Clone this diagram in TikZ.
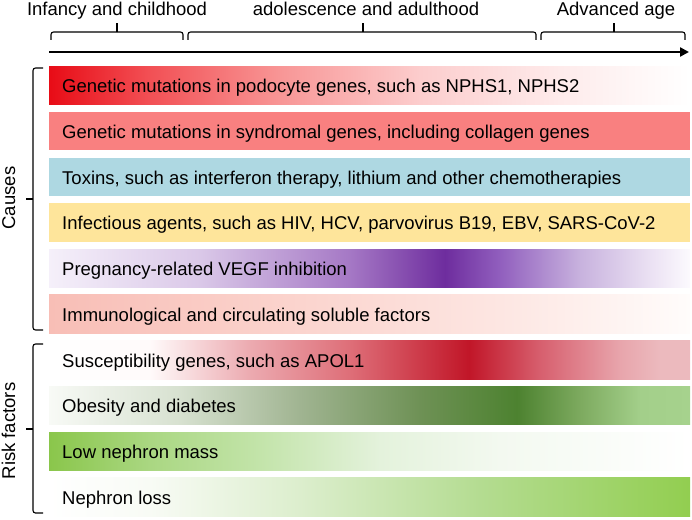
\documentclass[tikz,border=0pt]{standalone}
\usepackage{fontspec}
\setmainfont{Liberation Sans}
\usetikzlibrary{arrows.meta}

% row 1 colours
\definecolor{aA}{RGB}{232,12,22}
\definecolor{aB}{RGB}{242,80,85}
\definecolor{aC}{RGB}{248,150,150}
\definecolor{aD}{RGB}{252,205,205}
\definecolor{aE}{RGB}{254,235,235}
\definecolor{aF}{RGB}{255,255,255}
% solid rows
\definecolor{salmonbar}{RGB}{249,128,128}
\definecolor{bluebar}{RGB}{174,216,226}
\definecolor{yellowbar}{RGB}{254,229,155}
% purple row
\definecolor{pA}{RGB}{245,240,250}
\definecolor{pB}{RGB}{218,200,232}
\definecolor{pC}{RGB}{165,120,197}
\definecolor{pD}{RGB}{110,45,158}
\definecolor{pE}{RGB}{145,95,190}
\definecolor{pF}{RGB}{200,178,222}
\definecolor{pG}{RGB}{235,225,243}
\definecolor{pH}{RGB}{252,250,254}
% pink row
\definecolor{kA}{RGB}{248,190,182}
\definecolor{kB}{RGB}{251,212,206}
\definecolor{kC}{RGB}{253,230,226}
\definecolor{kD}{RGB}{255,252,251}
% susceptibility row
\definecolor{sA}{RGB}{255,255,255}
\definecolor{sB}{RGB}{255,250,250}
\definecolor{sC}{RGB}{236,170,176}
\definecolor{sD}{RGB}{222,110,120}
\definecolor{sE}{RGB}{193,22,40}
\definecolor{sF}{RGB}{215,95,110}
\definecolor{sG}{RGB}{232,165,172}
\definecolor{sH}{RGB}{236,186,190}
% obesity row
\definecolor{oA}{RGB}{248,250,246}
\definecolor{oB}{RGB}{215,225,208}
\definecolor{oC}{RGB}{160,180,145}
\definecolor{oD}{RGB}{110,145,85}
\definecolor{oE}{RGB}{77,130,48}
\definecolor{oF}{RGB}{125,170,95}
\definecolor{oG}{RGB}{163,207,138}
\definecolor{oH}{RGB}{166,210,141}
% low nephron mass row
\definecolor{lA}{RGB}{138,198,75}
\definecolor{lB}{RGB}{170,215,130}
\definecolor{lC}{RGB}{195,228,170}
\definecolor{lD}{RGB}{228,242,220}
\definecolor{lE}{RGB}{243,249,240}
\definecolor{lF}{RGB}{255,255,255}
% nephron loss row
\definecolor{nA}{RGB}{255,255,255}
\definecolor{nB}{RGB}{248,251,245}
\definecolor{nC}{RGB}{220,238,205}
\definecolor{nD}{RGB}{180,220,145}
\definecolor{nE}{RGB}{146,206,80}

\pgfdeclarehorizontalshading{shpodo}{100bp}{color(0bp)=(aA); color(25bp)=(aA); color(32.88bp)=(aB); color(43.02bp)=(aC); color(53.94bp)=(aD); color(64.86bp)=(aE); color(75bp)=(aF); color(100bp)=(aF)}
\pgfdeclarehorizontalshading{shpreg}{100bp}{color(0bp)=(pA); color(25bp)=(pA); color(36.78bp)=(pB); color(48.48bp)=(pC); color(55.89bp)=(pD); color(60.18bp)=(pE); color(66.42bp)=(pF); color(71.88bp)=(pG); color(75bp)=(pH); color(100bp)=(pH)}
\pgfdeclarehorizontalshading{shimmu}{100bp}{color(0bp)=(kA); color(25bp)=(kA); color(44.58bp)=(kB); color(60.18bp)=(kC); color(75bp)=(kD); color(100bp)=(kD)}
\pgfdeclarehorizontalshading{shsusc}{100bp}{color(0bp)=(sA); color(25bp)=(sA); color(32.88bp)=(sB); color(40.68bp)=(sC); color(48.48bp)=(sD); color(57.76bp)=(sE); color(63.30bp)=(sF); color(69.54bp)=(sG); color(72.66bp)=(sH); color(75bp)=(sH); color(100bp)=(sH)}
\pgfdeclarehorizontalshading{shobes}{100bp}{color(0bp)=(oA); color(25bp)=(oA); color(35.22bp)=(oB); color(44.58bp)=(oC); color(53.94bp)=(oD); color(61.51bp)=(oE); color(66.42bp)=(oF); color(71.10bp)=(oG); color(75bp)=(oH); color(100bp)=(oH)}
\pgfdeclarehorizontalshading{shlown}{100bp}{color(0bp)=(lA); color(25bp)=(lA); color(32.88bp)=(lB); color(41.46bp)=(lC); color(50.82bp)=(lD); color(60.18bp)=(lE); color(75bp)=(lF); color(100bp)=(lF)}
\pgfdeclarehorizontalshading{shloss}{100bp}{color(0bp)=(nA); color(25bp)=(nA); color(32.88bp)=(nB); color(44.58bp)=(nC); color(58.62bp)=(nD); color(75bp)=(nE); color(100bp)=(nE)}

\begin{document}
\begin{tikzpicture}[x=1pt,y=-1pt,
  bar/.style={anchor=north west, minimum width=641pt, minimum height=38.5pt, inner sep=0pt, outer sep=0pt, draw=none},
  lbl/.style={anchor=base west, inner sep=0pt, font=\fontsize{18.5}{22}\selectfont},
  hdr/.style={anchor=base, inner sep=0pt, font=\fontsize{18.5}{22}\selectfont},
  side/.style={anchor=base, inner sep=0pt, rotate=90, font=\fontsize{18.5}{22}\selectfont},
  brk/.style={line width=1.1pt, rounded corners=2.5pt},
  axisline/.style={line width=2.4pt, -{Triangle[length=9pt,width=9pt]}}]
\useasboundingbox (0,0) rectangle (692,519);

% header labels
\node[hdr] (h1) at (117,16) {Infancy and childhood};
\node[hdr] (h2) at (366,16) {adolescence and adulthood};
\node[hdr] (h3) at (616,16) {Advanced age};

% header brackets
\draw[brk] (51,40) -- (51,32) -- (183,32) -- (183,40);
\draw[line width=1.1pt] (117,32) -- (117,23);
\draw[brk] (188,40) -- (188,32) -- (536,32) -- (536,40);
\draw[line width=1.1pt] (363,32) -- (363,23);
\draw[brk] (541,40) -- (541,32) -- (685,32) -- (685,40);
\draw[line width=1.1pt] (614,32) -- (614,23);

% time axis
\coordinate (axs) at (49,52);
\coordinate (axe) at (689,52);
\draw[axisline] (axs) -- (axe);

% bars
\node[bar, shading=shpodo] (b1) at (49,66) {};
\node[bar, fill=salmonbar] (b2) at (49,111.75) {};
\node[bar, fill=bluebar] (b3) at (49,157.5) {};
\node[bar, fill=yellowbar] (b4) at (49,203.25) {};
\node[bar, shading=shpreg] (b5) at (49,249) {};
\node[bar, shading=shimmu] (b6) at (49,294.75) {};
\node[bar, shading=shsusc] (b7) at (49,340.5) {};
\node[bar, shading=shobes] (b8) at (49,386.25) {};
\node[bar, shading=shlown] (b9) at (49,432) {};
\node[bar, shading=shloss] (b10) at (49,477.75) {};

% bar labels
\node[lbl] (t1) at (62,92.5) {Genetic mutations in podocyte genes, such as NPHS1, NPHS2};
\node[lbl] (t2) at (62,138.25) {Genetic mutations in syndromal genes, including collagen genes};
\node[lbl] (t3) at (62,184) {Toxins, such as interferon therapy, lithium and other chemotherapies};
\node[lbl] (t4) at (62,229.75) {Infectious agents, such as HIV, HCV, parvovirus B19, EBV, SARS-CoV-2};
\node[lbl] (t5) at (62,275.5) {Pregnancy-related VEGF inhibition};
\node[lbl] (t6) at (62,321.25) {Immunological and circulating soluble factors};
\node[lbl] (t7) at (62,367) {Susceptibility genes, such as APOL1};
\node[lbl] (t8) at (62,412.75) {Obesity and diabetes};
\node[lbl] (t9) at (62,458.5) {Low nephron mass};
\node[lbl] (t10) at (62,504.25) {Nephron loss};

% side brackets
\draw[brk] (43,68) -- (33,68) -- (33,330) -- (43,330);
\draw[line width=1.1pt] (33,199) -- (26,199);
\draw[brk] (43,344) -- (33,344) -- (33,513) -- (43,513);
\draw[line width=1.1pt] (33,429) -- (26,429);

% side labels
\node[side] (sc) at (15,198) {Causes};
\node[side] (sr) at (15,431) {Risk factors};
\end{tikzpicture}
\end{document}
